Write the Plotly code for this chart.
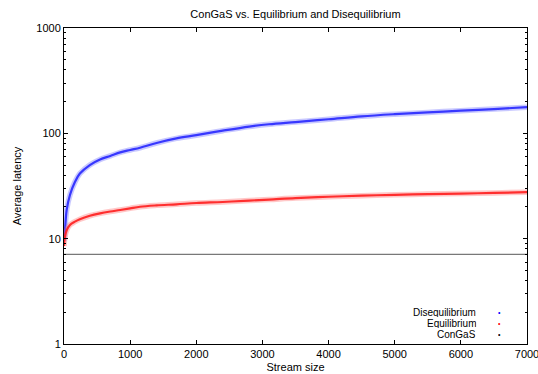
import plotly.graph_objects as go

# Stream size sample points
stream_size = [0, 15, 40, 90, 165, 240, 390, 545, 700, 850, 1000, 1150, 1400, 1700,
               2000, 2400, 2800, 3100, 3500, 4000, 4500, 5000, 5500, 6000, 6500, 7000]
disequilibrium = [9.5, 12, 18.7, 26, 34.5, 41.5, 50, 56.5, 61, 66, 69.5, 73, 81, 89.5,
                  96, 106, 116, 122, 128, 136, 145, 152, 158, 164, 170, 177]
equilibrium = [8.5, 10.5, 12, 13.5, 14.5, 15.3, 16.5, 17.4, 18.1, 18.7, 19.4, 20.1, 20.7, 21.2,
               21.8, 22.3, 23.0, 23.5, 24.3, 25.0, 25.6, 26.1, 26.5, 26.8, 27.2, 27.6]
congas_x = [0, 7000]
congas = [7.1, 7.1]

x_ticks = [0, 1000, 2000, 3000, 4000, 5000, 6000, 7000]
y_ticks = [1, 10, 100, 1000]
y_tick_labels = ["1", "10", "100", "1000"]
y_minor_ticks = [2, 3, 4, 5, 6, 7, 8, 9, 20, 30, 40, 50, 60, 70, 80, 90,
                 200, 300, 400, 500, 600, 700, 800, 900]

FONT = "Liberation Sans, Arial, Helvetica, sans-serif"

fig = go.Figure()

def band(x, y, color, light):
    fig.add_trace(go.Scatter(x=x, y=y, mode="lines", line=dict(color=light, width=5.5, shape="spline"),
                             opacity=0.4, hoverinfo="skip", showlegend=False))
    fig.add_trace(go.Scatter(x=x, y=y, mode="lines", line=dict(color=color, width=2.2, shape="spline"),
                             opacity=0.9, showlegend=False))

band(stream_size, disequilibrium, "rgb(40,40,255)", "rgb(120,120,255)")
band(stream_size, equilibrium, "rgb(255,30,30)", "rgb(255,120,120)")
fig.add_trace(go.Scatter(x=congas_x, y=congas, mode="lines", line=dict(color="rgb(120,120,120)", width=1.2),
                         showlegend=False))

# legend (gnuplot style: text right-aligned, sample dot on the right)
L, R, T, B = 64, 527, 28, 344
def px(x):
    return (x - L) / (R - L)
def py(y):
    return (B - y) / (B - T)

legend = [("Disequilibrium", "rgb(0,0,255)", 311.8),
          ("Equilibrium", "rgb(255,0,0)", 322.7),
          ("ConGaS", "black", 333.6)]
for name, col, yy in legend:
    fig.add_annotation(x=px(477), y=py(yy), xref="paper", yref="paper", text=name, showarrow=False,
                       xanchor="right", yanchor="middle", borderpad=0, height=10,
                       font=dict(size=10, color="black", family=FONT))
    fig.add_annotation(x=px(499), y=py(yy), xref="paper", yref="paper", text="•", showarrow=False,
                       xanchor="center", yanchor="middle", borderpad=0, height=8,
                       font=dict(size=7, color=col, family=FONT))

fig.update_layout(
    width=538, height=374,
    margin=dict(l=L, r=538 - R, t=T, b=374 - B, autoexpand=False),
    paper_bgcolor="white", plot_bgcolor="white",
    font=dict(family=FONT, size=11, color="black"),
    title=dict(text="ConGaS vs. Equilibrium and Disequilibrium", x=(L + R) / 2 / 538, xanchor="center",
               y=1 - 14 / 374, yanchor="middle", font=dict(size=11)),
    showlegend=False,
)
fig.update_xaxes(range=[0, 7000], tickmode="array", tickvals=x_ticks, ticktext=[str(v) for v in x_ticks],
                 ticks="inside", ticklen=4, tickcolor="black", automargin=False, ticklabeloverflow="allow",
                 showline=True, linecolor="black", linewidth=1, mirror="ticks", showgrid=False, zeroline=False,
                 title=dict(text="Stream size", standoff=4, font=dict(size=11)), tickfont=dict(size=11))
fig.update_yaxes(type="log", range=[0, 3], tickmode="array", tickvals=y_ticks, ticktext=y_tick_labels,
                 ticks="inside", ticklen=4, automargin=False, ticklabeloverflow="allow",
                 tickcolor="black", showline=True, linecolor="black", linewidth=1, mirror="ticks",
                 showgrid=False, zeroline=False,
                 minor=dict(tickmode="array", tickvals=y_minor_ticks, ticks="inside", ticklen=2,
                            tickcolor="black", showgrid=False),
                 title=dict(text="Average latency", standoff=12, font=dict(size=11)), tickfont=dict(size=11))

fig.write_html("out.html", config={"displayModeBar": False},
               post_script="document.body.style.margin='0';document.body.style.overflow='hidden';")
